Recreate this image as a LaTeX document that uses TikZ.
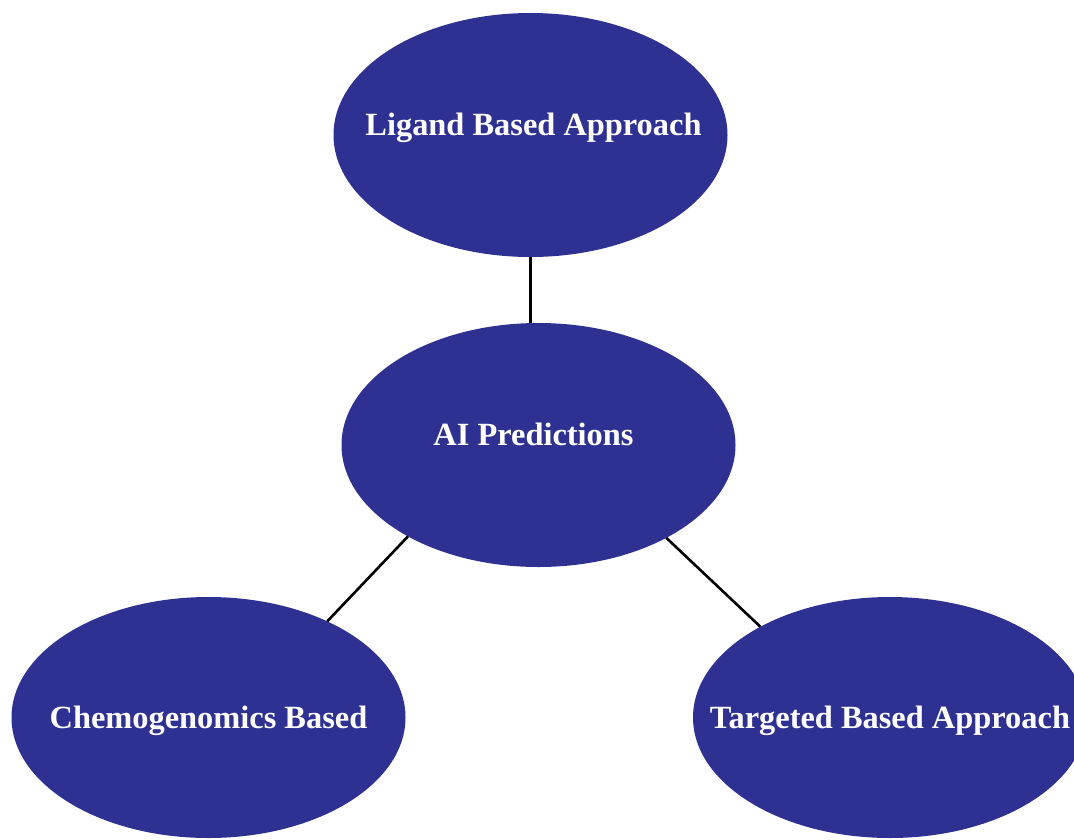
\documentclass[tikz,border=0pt]{standalone}
\usepackage{fontspec}
\setmainfont{Liberation Serif}
\usetikzlibrary{shapes.geometric}
\definecolor{nodeblue}{RGB}{46,49,146}
\tikzset{
  bubble/.style={ellipse, fill=nodeblue, draw=none, inner sep=0pt, outer sep=0pt,
    minimum width=394pt, minimum height=244pt, text=white,
    font=\bfseries\fontsize{32.4}{36}\selectfont},
  raised/.style={text height=22pt, text depth=22pt},
  centred/.style={text height=22pt, text depth=0pt},
  link/.style={draw=black, line width=2.6pt}
}
\begin{document}
\begin{tikzpicture}[x=1pt,y=-1pt]
\useasboundingbox (0,0) rectangle (1074,839);
\node[bubble,raised] (lig) at (530.5,135) {\makebox[0pt]{\kern6pt Ligand Based Approach}};
\node[bubble,raised] (mid) at (538.5,445) {\makebox[0pt]{AI Predictions\kern10pt}};
\node[bubble,centred,minimum height=241pt] (chem) at (208.5,717.5) {\makebox[0pt]{Chemogenomics Based}};
\node[bubble,centred,minimum height=241pt] (targ) at (890,717.5) {\makebox[0pt]{Targeted Based Approach}};
\draw[link] (lig.270.7) -- (lig.270.7 |- mid.north);
\draw[link] (mid.215.6) -- (chem.39.4);
\draw[link] (mid.324.4) -- (targ.145.9);
\end{tikzpicture}
\end{document}
